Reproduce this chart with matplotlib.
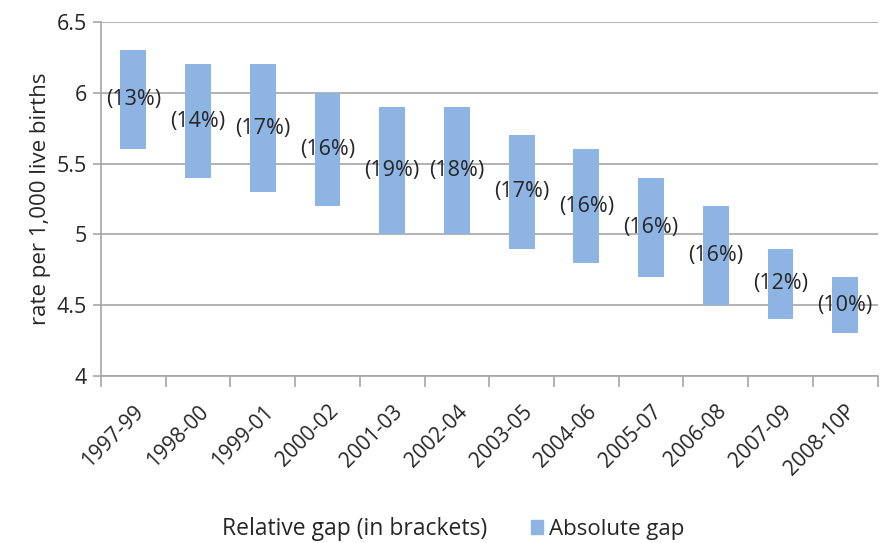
import matplotlib.pyplot as plt
import numpy as np
from matplotlib.patches import Patch

plt.rcParams['font.family'] = ['Open Sans', 'DejaVu Sans']

periods = ['1997-99', '1998-00', '1999-01', '2000-02', '2001-03', '2002-04',
           '2003-05', '2004-06', '2005-07', '2006-08', '2007-09', '2008-10P']
low = [5.6, 5.4, 5.3, 5.2, 5.0, 5.0, 4.9, 4.8, 4.7, 4.5, 4.4, 4.3]
high = [6.3, 6.2, 6.2, 6.0, 5.9, 5.9, 5.7, 5.6, 5.4, 5.2, 4.9, 4.7]
rel_gap = [13, 14, 17, 16, 19, 18, 17, 16, 16, 16, 12, 10]

bar_color = '#8DB4E2'
grid_color = '#A6A6A6'
text_color = '#262626'

fig = plt.figure(figsize=(8.82, 5.43), dpi=100)
ax = fig.add_axes([0.1145, 0.3076, 0.8805, 0.652])

x = np.arange(len(periods))
lo = np.array(low)
hi = np.array(high)
ax.bar(x, hi - lo, bottom=lo, width=0.4, color=bar_color, zorder=3)

# relative gap written at the middle of each bar
for xi, a, b, r in zip(x, lo, hi, rel_gap):
    ax.text(xi, (a + b) / 2, f'({r}%)', ha='center', va='center',
            fontsize=15.5, color=text_color, zorder=4)

ax.set_xlim(-0.5, len(periods) - 0.5)
ax.set_ylim(4, 6.5)
ax.set_yticks([4, 4.5, 5, 5.5, 6, 6.5])
ax.set_yticklabels(['4', '4.5', '5', '5.5', '6', '6.5'])
ax.yaxis.grid(True, color=grid_color, linewidth=1.2, zorder=0)
ax.set_axisbelow(True)

ax.set_xticks(x)
ax.set_xticklabels(periods, rotation=45, ha='right', rotation_mode='anchor')
ax.set_xticks(np.arange(-0.5, len(periods)), minor=True)
ax.tick_params(axis='x', which='major', length=0, pad=18, labelsize=15,
               labelcolor=text_color)
ax.tick_params(axis='x', which='minor', length=8, color=grid_color, width=1.2)
ax.tick_params(axis='y', length=6, color=grid_color, width=1.2, labelsize=15.5,
               labelcolor=text_color, pad=4)

for s in ['top', 'right']:
    ax.spines[s].set_visible(False)
for s in ['left', 'bottom']:
    ax.spines[s].set_color(grid_color)
    ax.spines[s].set_linewidth(1.2)

ax.set_ylabel('rate per 1,000 live births', fontsize=16, color=text_color,
              labelpad=4)

fig.text(0.252, 0.025, 'Relative gap (in brackets)', fontsize=16.5,
         color=text_color, ha='left', va='center')
fig.legend(handles=[Patch(color=bar_color, label='Absolute gap')],
           loc='center left', bbox_to_anchor=(0.602, 0.025), frameon=False,
           fontsize=16, handlelength=0.55, handleheight=0.55,
           handletextpad=0.25, borderpad=0, borderaxespad=0,
           labelcolor=text_color)

fig.savefig('out.png', dpi=100)
